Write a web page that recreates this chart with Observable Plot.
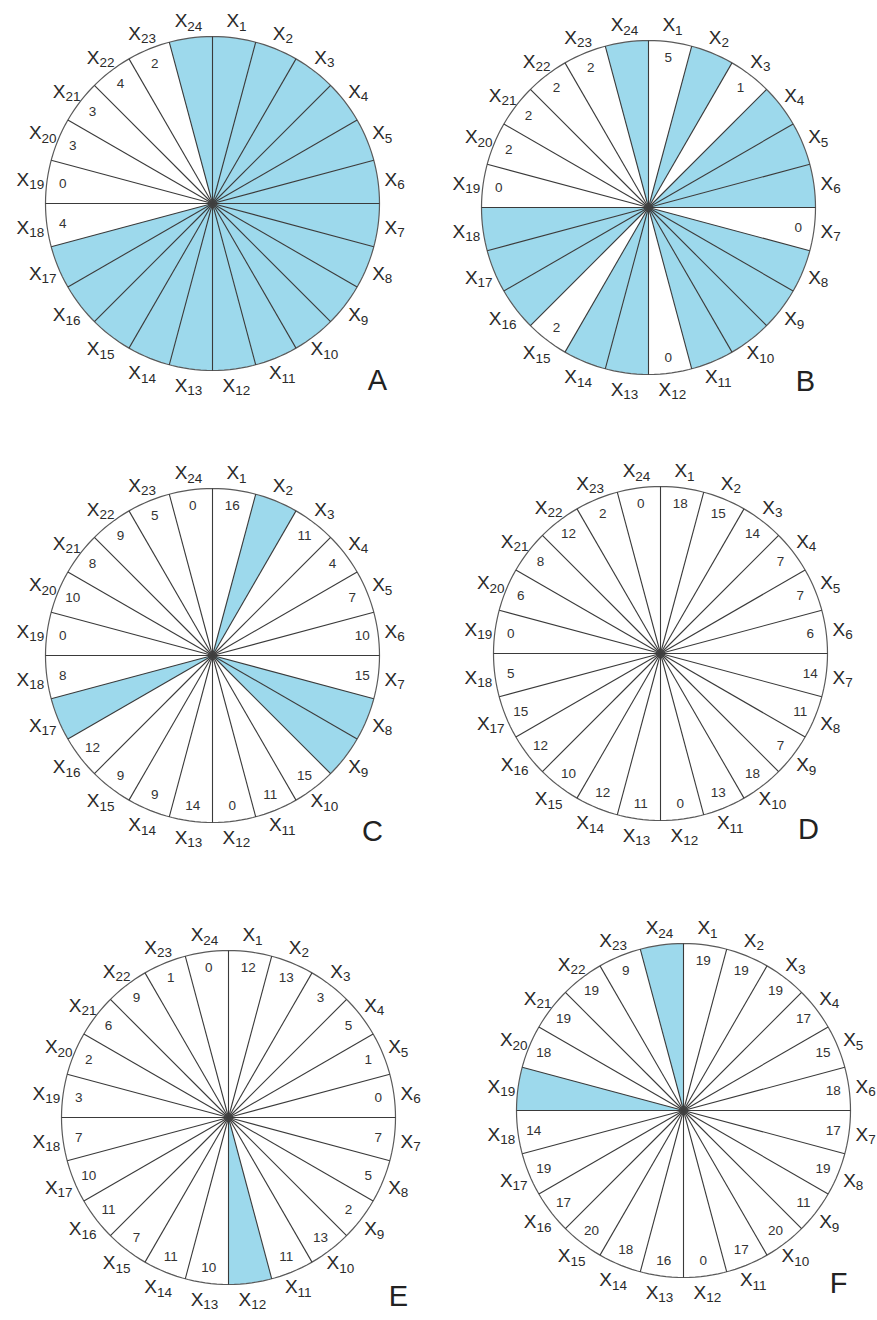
<!DOCTYPE html>
<html>
<head>
<meta charset="utf-8">
<script src="https://cdn.jsdelivr.net/npm/d3@7"></script>
<script src="https://cdn.jsdelivr.net/npm/@observablehq/plot@0.6"></script>
<style>
  body { margin: 0; background: #fff; }
  #page { position: relative; width: 877px; height: 1320px; overflow: hidden; font-family: "Liberation Sans", Arial, sans-serif; }
  .panel { position: absolute; width: 440px; height: 440px; }
  .panel svg { background: transparent !important; overflow: visible; }
</style>
</head>
<body>
<div id="page"></div>
<script>
// ---- Data -------------------------------------------------------------
// Sector subscripts (X1 ... X24), clockwise from the top
const sectorNumbers = [1, 2, 3, 4, 5, 6, 7, 8, 9, 10, 11, 12, 13, 14, 15, 16, 17, 18, 19, 20, 21, 22, 23, 24];
const panelLetters = ["A", "B", "C", "D", "E", "F"];

// Count written in each sector; null = shaded (blue) sector with no count
const valuesA = [null, null, null, null, null, null, null, null, null, null, null, null, null, null, null, null, null, 4, 0, 3, 3, 4, 2, null];
const valuesB = [5, null, 1, null, null, null, 0, null, null, null, null, 0, null, null, 2, null, null, null, 0, 2, 2, 2, 2, null];
const valuesC = [16, null, 11, 4, 7, 10, 15, null, null, 15, 11, 0, 14, 9, 9, 12, null, 8, 0, 10, 8, 9, 5, 0];
const valuesD = [18, 15, 14, 7, 7, 6, 14, 11, 7, 18, 13, 0, 11, 12, 10, 12, 15, 5, 0, 6, 8, 12, 2, 0];
const valuesE = [12, 13, 3, 5, 1, 0, 7, 5, 2, 13, 11, null, 10, 11, 7, 11, 10, 7, 3, 2, 6, 9, 1, 0];
const valuesF = [19, 19, 19, 17, 15, 18, 17, 19, 11, 20, 17, 0, 16, 18, 20, 17, 19, 14, null, 18, 19, 19, 9, null];
const panelValues = [valuesA, valuesB, valuesC, valuesD, valuesE, valuesF];

// ---- Layout (page position of each wheel centre, letter offset) -------
const layout = [
  { cx: 212, cy: 203, ldx: -55, ldy: -34 },
  { cx: 648, cy: 207, ldx: -63, ldy: -37 },
  { cx: 212, cy: 655, ldx: -60, ldy: -35 },
  { cx: 660, cy: 653, ldx: -72, ldy: -35 },
  { cx: 228, cy: 1117, ldx: -50, ldy: -32 },
  { cx: 683, cy: 1110, ldx: -65, ldy: -38 }
];

const SIZE = 440, HALF = 220, R = 167;
const BLUE = "#9dd9ec";
const N = sectorNumbers.length;
const step = 2 * Math.PI / N;
const px = (a, r) => r * Math.sin(a);
const py = (a, r) => -r * Math.cos(a);

const page = document.getElementById("page");

panelValues.forEach((values, p) => {
  const L = layout[p];

  // shaded sector polygons
  const sectors = [];
  values.forEach((v, i) => {
    if (v !== null) return;
    sectors.push({ id: i, a: null });
    for (let k = 0; k <= 12; k++) sectors.push({ id: i, a: (i + k / 12) * step });
  });
  const sx = d => d.a === null ? 0 : px(d.a, 1);
  const sy = d => d.a === null ? 0 : py(d.a, 1);

  const circle = d3.range(0, 181).map(k => k * 2 * Math.PI / 180);
  const bounds = d3.range(N).map(j => j * step);

  const counts = values.map((v, i) => ({ v, i })).filter(d => d.v !== null);
  const lab = sectorNumbers.map((n, i) => ({ n, i }));
  const lab1 = lab.filter(d => d.n < 10);
  const lab2 = lab.filter(d => d.n >= 10);
  const LR = 1.10;
  const lx = d => px((d.i + 0.5) * step, LR);
  const ly = d => py((d.i + 0.5) * step, LR);

  const labelMarks = (data, dx) => [
    Plot.text(data, { x: lx, y: ly, text: () => "X", textAnchor: "end", dx: dx, fontSize: 19, fill: "#2a2a2a" }),
    Plot.text(data, { x: lx, y: ly, text: d => String(d.n), textAnchor: "start", dx: dx, dy: 5, fontSize: 13.5, fill: "#2a2a2a" })
  ];

  const chart = Plot.plot({
    width: SIZE,
    height: SIZE,
    margin: 0,
    style: { fontFamily: "'Liberation Sans', Arial, sans-serif", background: "transparent", overflow: "visible" },
    x: { domain: [-1, 1], range: [HALF - R, HALF + R], axis: null },
    y: { domain: [-1, 1], range: [HALF - R, HALF + R], axis: null },
    marks: [
      Plot.line(sectors, { x: sx, y: sy, z: "id", fill: BLUE, stroke: "none" }),
      Plot.line(circle, { x: a => px(a, 1), y: a => py(a, 1), stroke: "#5a5a5a", strokeWidth: 1.2 }),
      Plot.link(bounds, { x1: () => 0, y1: () => 0, x2: a => px(a, 1), y2: a => py(a, 1), stroke: "#3a3a3a", strokeWidth: 1.1 }),
      Plot.dot([0], { x: () => 0, y: () => 0, r: 4.5, fill: "#444", fillOpacity: 0.55, stroke: "none" }),
      Plot.text(counts, {
        x: d => px((d.i + 0.5) * step, 0.905),
        y: d => py((d.i + 0.5) * step, 0.905),
        text: d => String(d.v),
        fontSize: 13.5, fill: "#333"
      }),
      ...labelMarks(lab1, 2.6),
      ...labelMarks(lab2, -1.2),
      Plot.text([panelLetters[p]], { frameAnchor: "bottom-right", text: d => d, dx: L.ldx, dy: L.ldy, textAnchor: "middle", fontSize: 29, fill: "#222" })
    ]
  });

  const div = document.createElement("div");
  div.className = "panel";
  div.style.left = (L.cx - HALF) + "px";
  div.style.top = (L.cy - HALF) + "px";
  div.appendChild(chart);
  page.appendChild(div);
});
</script>
</body>
</html>
